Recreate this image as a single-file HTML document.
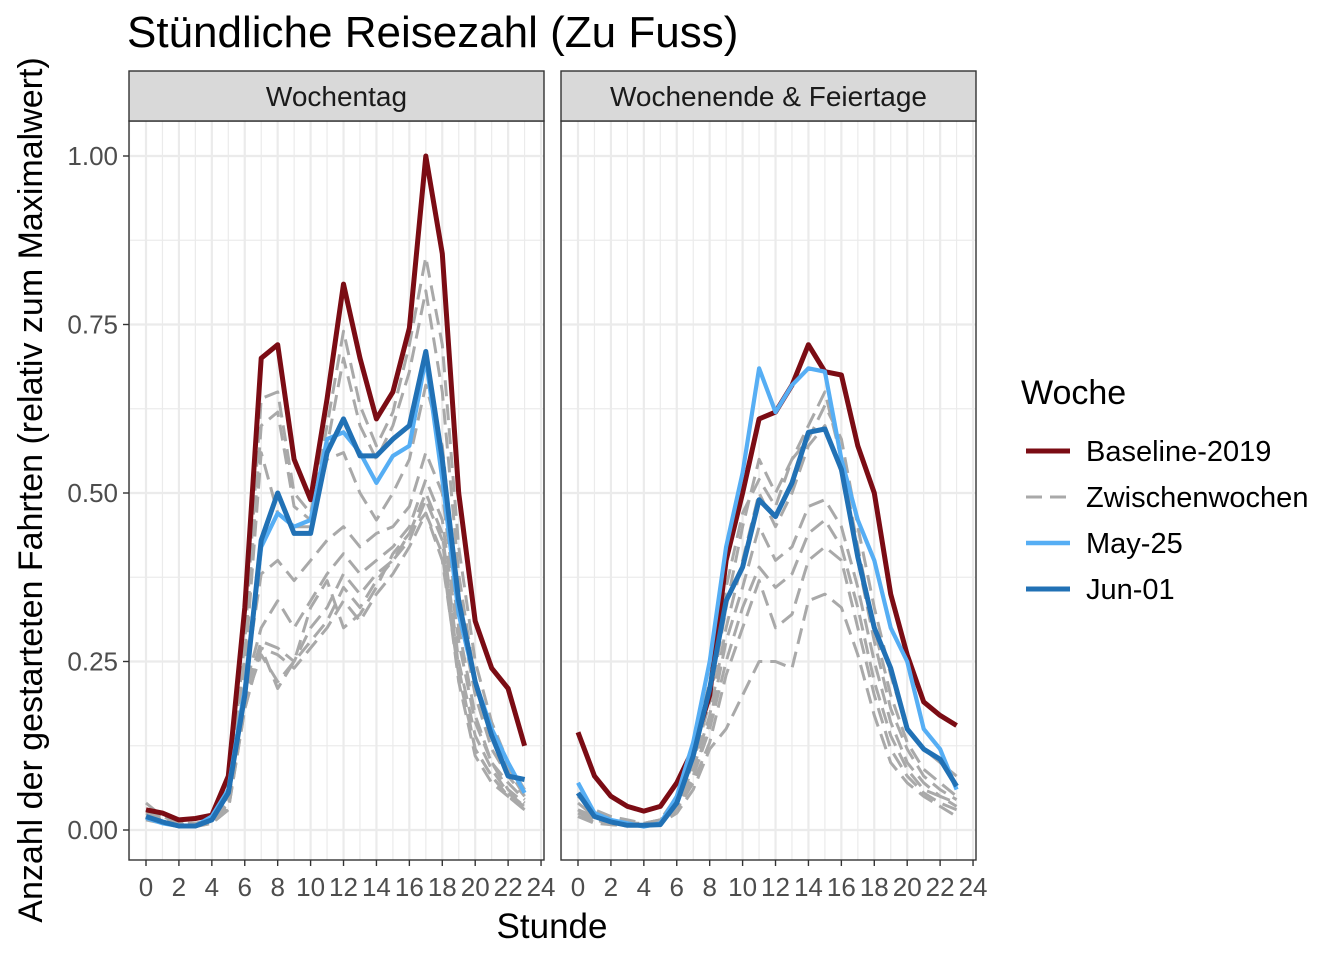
<!DOCTYPE html>
<html><head><meta charset="utf-8"><style>
html,body{margin:0;padding:0;background:#fff;}
svg{display:block;font-family:"Liberation Sans",Arial,sans-serif;}
</style></head><body>
<svg id="chart" width="1344" height="960" viewBox="0 0 1344 960">
<text x="127" y="47" font-size="44" fill="#000">Stündliche Reisezahl (Zu Fuss)</text>
<text transform="translate(42,490) rotate(-90)" text-anchor="middle" font-size="34" fill="#000">Anzahl der gestarteten Fahrten (relativ zum Maximalwert)</text>
<text x="552" y="938" text-anchor="middle" font-size="35" fill="#000">Stunde</text>
<g id="panels"></g>
<g>
<text x="1021" y="404" font-size="34">Woche</text>
<g><line x1="1026" y1="451" x2="1070" y2="451" stroke="#7b0c14" stroke-width="5"/><text x="1086" y="461" font-size="29">Baseline-2019</text></g>
<g><line x1="1026" y1="497" x2="1070" y2="497" stroke="#a9a9a9" stroke-width="3" stroke-dasharray="16,8"/><text x="1086" y="507" font-size="29">Zwischenwochen</text></g>
<g><line x1="1026" y1="543" x2="1070" y2="543" stroke="#56aef4" stroke-width="4.5"/><text x="1086" y="553" font-size="29">May-25</text></g>
<g><line x1="1026" y1="589" x2="1070" y2="589" stroke="#2171b5" stroke-width="5"/><text x="1086" y="599" font-size="29">Jun-01</text></g>
</g>
</svg>
<script>
const hours=[0,1,2,3,4,5,6,7,8,9,10,11,12,13,14,15,16,17,18,19,20,21,22,23];
const yTicks=[0,0.25,0.5,0.75,1];
const yTickLabels=["0.00","0.25","0.50","0.75","1.00"];
const xTicks=[0,2,4,6,8,10,12,14,16,18,20,22,24];
const facetNames=["Wochentag","Wochenende & Feiertage"];
const wdBaseline=[0.03,0.025,0.015,0.017,0.022,0.08,0.33,0.70,0.72,0.55,0.49,0.64,0.81,0.70,0.61,0.65,0.745,1.00,0.855,0.50,0.31,0.24,0.21,0.125];
const wdMay25=[0.018,0.01,0.006,0.006,0.02,0.06,0.21,0.42,0.47,0.45,0.46,0.58,0.59,0.56,0.515,0.555,0.57,0.70,0.52,0.32,0.22,0.15,0.10,0.055];
const wdJun01=[0.02,0.012,0.006,0.006,0.015,0.055,0.2,0.43,0.50,0.44,0.44,0.56,0.61,0.555,0.555,0.58,0.60,0.71,0.55,0.34,0.22,0.14,0.08,0.075];
const wdGray1=[0.04,0.02,0.01,0.01,0.015,0.05,0.28,0.64,0.65,0.50,0.47,0.60,0.74,0.63,0.57,0.62,0.72,0.85,0.72,0.42,0.25,0.16,0.10,0.06];
const wdGray2=[0.03,0.02,0.01,0.01,0.015,0.05,0.26,0.60,0.62,0.48,0.46,0.57,0.70,0.60,0.55,0.60,0.68,0.80,0.65,0.38,0.22,0.14,0.09,0.05];
const wdGray3=[0.03,0.015,0.01,0.01,0.015,0.045,0.24,0.56,0.47,0.45,0.45,0.55,0.56,0.50,0.46,0.50,0.55,0.66,0.57,0.33,0.20,0.12,0.08,0.05];
const wdGray4=[0.025,0.015,0.008,0.008,0.012,0.04,0.22,0.38,0.40,0.37,0.40,0.43,0.45,0.42,0.44,0.45,0.48,0.56,0.50,0.30,0.17,0.10,0.07,0.045];
const wdGray5=[0.02,0.012,0.007,0.007,0.012,0.04,0.21,0.30,0.34,0.30,0.34,0.38,0.41,0.38,0.40,0.42,0.45,0.52,0.46,0.28,0.16,0.10,0.06,0.04];
const wdGray6=[0.02,0.01,0.006,0.006,0.01,0.035,0.2,0.28,0.27,0.25,0.30,0.33,0.38,0.35,0.38,0.40,0.44,0.50,0.44,0.25,0.14,0.09,0.055,0.035];
const wdGray7=[0.02,0.01,0.006,0.006,0.01,0.035,0.19,0.26,0.22,0.25,0.28,0.31,0.36,0.33,0.37,0.40,0.43,0.49,0.43,0.24,0.12,0.08,0.05,0.03];
const wdGray8=[0.015,0.01,0.005,0.005,0.01,0.03,0.18,0.27,0.26,0.24,0.27,0.30,0.34,0.31,0.35,0.38,0.42,0.47,0.41,0.22,0.11,0.07,0.05,0.03];
const wdGray9=[0.02,0.01,0.006,0.006,0.01,0.03,0.18,0.27,0.21,0.25,0.33,0.37,0.30,0.32,0.36,0.41,0.44,0.47,0.40,0.23,0.12,0.08,0.05,0.035];
const weBaseline=[0.145,0.08,0.05,0.035,0.028,0.035,0.07,0.12,0.2,0.4,0.5,0.61,0.62,0.66,0.72,0.68,0.675,0.57,0.5,0.35,0.26,0.19,0.17,0.155];
const weMay25=[0.07,0.025,0.015,0.01,0.005,0.01,0.05,0.13,0.25,0.42,0.53,0.685,0.62,0.66,0.685,0.68,0.55,0.46,0.40,0.30,0.25,0.15,0.12,0.06];
const weJun01=[0.055,0.02,0.012,0.007,0.007,0.008,0.04,0.11,0.21,0.34,0.39,0.49,0.465,0.515,0.59,0.595,0.535,0.405,0.30,0.24,0.15,0.12,0.105,0.065];
const weGray1=[0.04,0.02,0.015,0.01,0.01,0.015,0.04,0.10,0.19,0.33,0.45,0.55,0.50,0.55,0.60,0.65,0.55,0.42,0.30,0.20,0.13,0.09,0.07,0.05];
const weGray2=[0.03,0.02,0.01,0.01,0.01,0.015,0.04,0.09,0.17,0.30,0.40,0.50,0.45,0.50,0.57,0.60,0.53,0.40,0.28,0.18,0.12,0.08,0.06,0.045];
const weGray3=[0.03,0.015,0.01,0.008,0.008,0.012,0.035,0.08,0.16,0.28,0.36,0.45,0.40,0.42,0.48,0.49,0.45,0.36,0.25,0.16,0.10,0.07,0.05,0.04];
const weGray4=[0.025,0.015,0.01,0.008,0.008,0.012,0.03,0.08,0.15,0.25,0.33,0.39,0.36,0.38,0.44,0.46,0.42,0.33,0.22,0.14,0.09,0.06,0.05,0.035];
const weGray5=[0.02,0.012,0.008,0.006,0.006,0.01,0.03,0.07,0.13,0.23,0.30,0.37,0.30,0.32,0.40,0.42,0.40,0.30,0.20,0.12,0.08,0.055,0.04,0.03];
const weGray6=[0.02,0.01,0.008,0.006,0.006,0.01,0.025,0.06,0.12,0.15,0.20,0.25,0.25,0.24,0.34,0.35,0.33,0.26,0.17,0.10,0.07,0.05,0.035,0.02];
const weGray7=[0.05,0.03,0.02,0.015,0.01,0.015,0.05,0.12,0.22,0.36,0.47,0.52,0.48,0.55,0.58,0.63,0.58,0.45,0.33,0.23,0.15,0.12,0.10,0.08];

const NS="http://www.w3.org/2000/svg";
const panelsG=document.getElementById('panels');
function mk(tag,attrs,parent){const e=document.createElementNS(NS,tag);for(const k in attrs)e.setAttribute(k,attrs[k]);parent.appendChild(e);return e;}
const yScale=v=>830-v*674;
const panelDefs=[
 {left:129,right:544,x0:146,grays:[wdGray1,wdGray2,wdGray3,wdGray4,wdGray5,wdGray6,wdGray7,wdGray8,wdGray9],base:wdBaseline,may:wdMay25,jun:wdJun01},
 {left:561,right:976,x0:578,grays:[weGray1,weGray2,weGray3,weGray4,weGray5,weGray6,weGray7],base:weBaseline,may:weMay25,jun:weJun01}
];
panelDefs.forEach((p,pi)=>{
  const xScale=h=>p.x0+h*16.46;
  const g=mk('g',{},panelsG);
  
  
  mk('rect',{x:p.left,y:121,width:p.right-p.left,height:739,fill:'#fff'},g);
  for(let v=-0.125;v<=1.05;v+=0.125){const y=yScale(v);if(y<122||y>859)continue;const major=Math.abs(v*4-Math.round(v*4))<1e-6;mk('line',{x1:p.left,x2:p.right,y1:y,y2:y,stroke:'#ebebeb','stroke-width':major?2.2:1.2},g);}
  for(let h=-1;h<=24;h++){const x=xScale(h);if(x<p.left||x>p.right)continue;mk('line',{x1:x,x2:x,y1:121,y2:860,stroke:'#ebebeb','stroke-width':h%2===0?2.2:1.2},g);}
  const pathD=arr=>arr.map((v,i)=>(i?'L':'M')+xScale(hours[i]).toFixed(1)+','+yScale(v).toFixed(1)).join('');
  p.grays.forEach((arr,k)=>{const l=mk('path',{d:pathD(arr),fill:'none',stroke:'#a9a9a9','stroke-width':3,'stroke-dasharray':'16,8','stroke-linejoin':'round'},g);
    
    });
  const b=mk('path',{d:pathD(p.base),fill:'none',stroke:'#7b0c14','stroke-width':5,'stroke-linejoin':'round'},g);
  
  
  const m=mk('path',{d:pathD(p.may),fill:'none',stroke:'#56aef4','stroke-width':4.2,'stroke-linejoin':'round'},g);
  
  
  const j=mk('path',{d:pathD(p.jun),fill:'none',stroke:'#2171b5','stroke-width':5,'stroke-linejoin':'round'},g);
  
  
  mk('rect',{x:p.left,y:121,width:p.right-p.left,height:739,fill:'none',stroke:'#333','stroke-width':1.4},g);
  const s=mk('rect',{x:p.left,y:71,width:p.right-p.left,height:50,fill:'#d9d9d9',stroke:'#333','stroke-width':1.4},g);
  
  
  const st=mk('text',{x:(p.left+p.right)/2,y:106,'text-anchor':'middle','font-size':28,fill:'#1a1a1a'},g);
  st.textContent=facetNames[pi];
  
  
  xTicks.forEach(t=>{const x=xScale(t);mk('line',{x1:x,x2:x,y1:860,y2:866,stroke:'#333','stroke-width':1.4},g);
    const tx=mk('text',{x:x,y:896,'text-anchor':'middle','font-size':26,fill:'#4d4d4d'},g);tx.textContent=t;
    
    });
  if(pi===0){yTicks.forEach((t,i)=>{const y=yScale(t);mk('line',{x1:123,x2:129,y1:y,y2:y,stroke:'#333','stroke-width':1.4},g);
    const tx=mk('text',{x:118,y:y+9,'text-anchor':'end','font-size':26,fill:'#4d4d4d'},g);tx.textContent=yTickLabels[i];
    
    });}
});
</script>
</body></html>
